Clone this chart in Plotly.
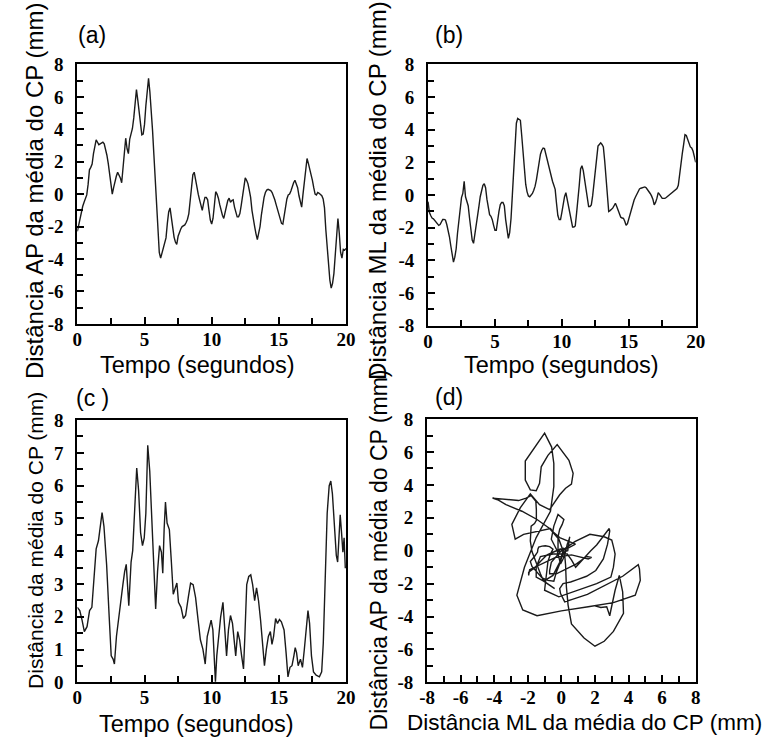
import plotly.graph_objects as go

# ---------------- data ----------------
# common sampling times (s) for AP and ML displacement, 0.1 s step, 0..20 s
TIME_S = [round(i * 0.1, 1) for i in range(201)]

AP_MM = [
    -2.3, -1.85, -1.4, -1.0, -0.75, -0.5, -0.3, -0.05, 0.6, 1.5,
    1.65, 1.85, 2.5, 3.0, 3.35, 3.2, 3.05, 3.1, 3.15, 3.2,
    3.1, 2.8, 2.4, 1.9, 1.35, 0.7, 0.0, 0.4, 0.8, 1.1,
    1.35, 1.2, 1.0, 0.7, 1.6, 2.6, 3.45, 2.8, 2.5, 3.4,
    3.8, 4.05, 4.7, 5.5, 6.45, 5.8, 5.1, 4.1, 3.65, 3.7,
    4.3, 5.45, 6.4, 7.15, 6.3, 5.3, 3.9, 2.4, 0.8, -1.0,
    -2.7, -3.6, -3.95, -3.65, -3.4, -3.15, -2.7, -1.8, -1.1, -0.85,
    -1.55, -2.1, -2.65, -2.95, -3.1, -2.6, -2.3, -2.15, -2.0, -1.95,
    -1.9, -1.75, -1.55, -1.2, -0.5, 0.4, 1.2, 1.35, 0.85, 0.35,
    0.0, -0.35, -0.65, -1.0, -0.55, -0.2, -0.2, -0.35, -1.0, -1.6,
    -1.85, -1.5, -0.7, 0.15, 0.0, -0.25, -0.65, -1.05, -1.3, -1.5,
    -1.15, -0.75, -0.4, -0.25, -0.5, -0.4, -0.35, -0.8, -1.15, -1.4,
    -1.4, -1.2, -0.7, -0.05, 0.55, 1.0, 0.85, 0.65, 0.25, -0.2,
    -1.0, -1.6, -2.0, -2.45, -2.8, -2.4, -2.0, -1.3, -0.65, -0.2,
    0.1, 0.25, 0.3, 0.28, 0.22, 0.1, -0.08, -0.35, -0.65, -0.95,
    -1.3, -1.65, -1.8, -1.85, -1.3, -0.85, -0.3, -0.05, 0.0, 0.2,
    0.5, 0.7, 0.85, 0.65, 0.4, -0.1, -0.5, -0.8, 0.0, 0.7,
    1.5, 2.2, 1.9, 1.6, 1.3, 0.85, 0.4, 0.0, -0.05, 0.1,
    0.05, 0.0, -0.1, -0.3, -0.85, -2.2, -3.3, -4.45, -5.3, -5.8,
    -5.5, -4.9, -3.8, -2.5, -1.5, -2.4, -3.6, -3.95, -3.4, -3.45,
    -3.35,
]

ML_MM = [
    -0.4, -1.05, -1.25, -1.4, -1.45, -1.55, -1.65, -1.75, -1.85, -1.8,
    -1.6, -1.49, -1.49, -1.52, -1.8, -2.1, -2.55, -3.1, -3.6, -4.1,
    -3.8, -3.3, -2.35, -1.45, -0.7, -0.15, 0.1, 0.84, -0.1, -0.45,
    -0.65, -1.4, -2.25, -2.75, -2.95, -2.45, -1.85, -1.3, -0.7, -0.1,
    0.25, 0.6, 0.7, 0.45, -0.25, -0.8, -1.2, -1.3, -1.5, -1.85,
    -2.15, -2.15, -1.5, -1.0, -0.58, -0.45, -0.45, -0.65, -1.5, -2.2,
    -2.65, -2.3, -1.45, 0.0, 1.6, 3.1, 4.4, 4.7, 4.65, 4.58,
    3.65, 2.55, 1.55, 0.65, 0.2, -0.05, -0.1, 0.0, 0.1, 0.3,
    0.55, 0.95, 1.5, 2.05, 2.5, 2.75, 2.88, 2.85, 2.5, 2.1,
    1.75, 1.45, 1.15, 0.85, 0.6, 0.35, -0.5, -1.25, -1.5, -1.5,
    -1.05, -0.5, -0.1, 0.15, -0.3, -0.85, -1.25, -1.6, -1.95, -1.95,
    -1.89, -1.1, -0.35, 0.6, 1.6, 1.8, 1.5, 0.9, 0.2, -0.3,
    -0.7, -0.7, -0.6, -0.05, 0.8, 1.7, 2.55, 3.0, 3.1, 3.2,
    3.1, 2.95, 2.1, 0.9, -0.15, -1.0, -0.95, -0.9, -0.8, -0.65,
    -0.5, -0.7, -0.95, -1.15, -1.35, -1.4, -1.42, -1.6, -1.85, -1.75,
    -1.45, -1.15, -0.8, -0.45, -0.3, -0.12, 0.05, 0.2, 0.38, 0.42,
    0.45, 0.47, 0.5, 0.45, 0.35, 0.24, 0.1, -0.05, -0.25, -0.6,
    -0.45, -0.2, 0.15, 0.05, -0.1, -0.2, -0.2, -0.2, -0.15, -0.08,
    0.0, 0.08, 0.15, 0.2, 0.25, 0.3, 0.4, 0.6, 1.35, 2.0,
    2.55, 3.1, 3.7, 3.65, 3.45, 3.2, 2.95, 2.88, 2.7, 2.35,
    2.0,
]

# resultant distance (panel c)
TIME_C_S = [
    0, 0.18, 0.35, 0.52, 0.72, 0.91, 1.08, 1.25, 1.40, 1.57,
    1.69, 1.84, 1.98, 2.18, 2.37, 2.52, 2.66, 2.76, 2.91, 3.10,
    3.27, 3.39, 3.52, 3.64, 3.83, 4.0, 4.12, 4.27, 4.42, 4.56,
    4.71, 4.85, 4.98, 5.10, 5.24, 5.39, 5.54, 5.68, 5.83, 5.97,
    6.12, 6.26, 6.36, 6.46, 6.56, 6.68, 6.85, 7.0, 7.14, 7.29,
    7.41, 7.53, 7.72, 7.89, 8.06, 8.26, 8.43, 8.62, 8.80, 8.99,
    9.16, 9.35, 9.52, 9.67, 9.82, 9.96, 10.09, 10.18, 10.28, 10.38,
    10.52, 10.67, 10.84, 10.96, 11.11, 11.25, 11.40, 11.55, 11.69, 11.79,
    11.94, 12.08, 12.23, 12.37, 12.47, 12.61, 12.76, 12.91, 13.05, 13.20,
    13.34, 13.49, 13.64, 13.78, 13.93, 14.07, 14.22, 14.37, 14.49, 14.61,
    14.76, 14.90, 15.05, 15.19, 15.39, 15.54, 15.68, 15.83, 15.98, 16.12,
    16.22, 16.32, 16.44, 16.61, 16.76, 16.90, 17.05, 17.17, 17.29, 17.43,
    17.58, 17.78, 18.02, 18.19, 18.31, 18.46, 18.60, 18.75, 18.87, 18.99,
    19.14, 19.28, 19.38, 19.48, 19.57, 19.67, 19.77, 19.86, 19.95,
]
DIST_C_MM = [
    2.29, 2.19, 1.90, 1.55, 1.70, 2.19, 2.29, 3.18, 4.07, 4.32,
    4.76, 5.18, 4.76, 3.58, 2.0, 0.81, 0.71, 0.56, 1.40, 2.09,
    2.59, 2.98, 3.38, 3.60, 2.34, 3.67, 4.02, 5.16, 6.54, 5.85,
    4.56, 4.17, 4.41, 5.16, 7.23, 6.44, 5.16, 3.67, 2.24, 3.38,
    4.17, 3.97, 3.33, 4.66, 5.50, 4.86, 4.66, 3.67, 2.69, 2.88,
    3.03, 2.44, 2.29, 1.95, 2.04, 2.59, 3.03, 2.98, 2.59, 1.90,
    1.30, 1.01, 0.56, 1.40, 1.65, 1.90, 1.60, 0.81, 0.02, 0.81,
    1.40, 2.0, 2.44, 1.80, 0.81, 1.60, 2.04, 1.80, 1.20, 0.81,
    1.55, 1.30, 0.81, 0.41, 1.40, 2.98, 3.23, 3.28, 2.98, 2.49,
    2.88, 2.49, 1.90, 1.20, 0.51, 1.01, 1.40, 1.55, 1.16, 1.40,
    1.95, 1.80, 1.92, 1.85, 1.60, 0.91, 0.17, 0.46, 0.51, 0.81,
    1.06, 0.91, 0.51, 0.71, 0.46, 1.01, 1.80, 2.19, 1.80, 0.81,
    0.32, 0.22, 0.17, 0.32, 1.20, 3.18, 5.16, 6.0, 6.14, 5.75,
    4.86, 3.87, 3.67, 4.37, 5.11, 4.56, 3.97, 4.41, 3.48,
]

# tick values / labels
TIME_TICKS = [0, 5, 10, 15, 20]
TIME_TICK_TEXT = ["0", "5", "10", "15", "20"]
TIME_MINOR = [2.5, 7.5, 12.5, 17.5]
DISP_TICKS = [-8, -6, -4, -2, 0, 2, 4, 6, 8]
DISP_TICK_TEXT = ["-8", "-6", "-4", "-2", "0", "2", "4", "6", "8"]
DISP_MINOR = [-7, -5, -3, -1, 1, 3, 5, 7]
DIST_TICKS = [0, 1, 2, 3, 4, 5, 6, 7, 8]
DIST_TICK_TEXT = ["0", "1", "2", "3", "4", "5", "6", "7", "8"]
DIST_MINOR = [0.5, 1.5, 2.5, 3.5, 4.5, 5.5, 6.5, 7.5]

# ---------------- layout helpers ----------------
W, H = 777, 742


def fx(p):
    return p / W


def fy(p):
    return 1 - p / H


SERIF = "Liberation Serif, Times New Roman, serif"
SANS = "Liberation Sans, Arial, sans-serif"
LINE = dict(color="#1a1a1a", width=1.4)
TICKFONT = dict(family=SERIF, size=19, color="black")
YTITLEFONT = dict(family=SANS, size=24, color="black")
CTITLEFONT = dict(family=SANS, size=21, color="black")
DYTITLEFONT = dict(family=SANS, size=23, color="black")
XTITLEFONT = dict(family=SANS, size=23.5, color="black")
DTITLEFONT = dict(family=SANS, size=22.5, color="black")
LABELFONT = dict(family=SANS, size=23, color="black")


def bold(labels):
    return ["<b>%s</b>" % s for s in labels]


def axis(domain, rng, tickvals, ticktext, minor_vals, anchor, standoff):
    return dict(
        domain=domain, range=rng, anchor=anchor,
        showline=True, linecolor="black", linewidth=2, mirror=True,
        showgrid=False, zeroline=False,
        ticks="inside", ticklen=7, tickwidth=1.5, tickcolor="black",
        tickmode="array", tickvals=tickvals, ticktext=bold(ticktext),
        tickfont=dict(TICKFONT), ticklabelstandoff=standoff,
        minor=dict(tickmode="array", tickvals=minor_vals, ticks="inside",
                   ticklen=6, tickwidth=1.5, tickcolor="black", showgrid=False),
    )


fig = go.Figure()
fig.add_trace(go.Scatter(x=TIME_S, y=AP_MM, mode="lines", line=LINE,
                         xaxis="x", yaxis="y", showlegend=False))
fig.add_trace(go.Scatter(x=TIME_S, y=ML_MM, mode="lines", line=LINE,
                         xaxis="x2", yaxis="y2", showlegend=False))
fig.add_trace(go.Scatter(x=TIME_C_S, y=DIST_C_MM, mode="lines", line=LINE,
                         xaxis="x3", yaxis="y3", showlegend=False))
fig.add_trace(go.Scatter(x=ML_MM, y=AP_MM, mode="lines", line=LINE,
                         xaxis="x4", yaxis="y4", showlegend=False))

XS, YS = -3, 8
fig.update_layout(
    width=W, height=H, margin=dict(l=0, r=0, t=0, b=0),
    paper_bgcolor="white", plot_bgcolor="white",
    font=dict(family=SERIF, size=19, color="black"),
    xaxis=axis([fx(71), fx(346)], [0, 20], TIME_TICKS, TIME_TICK_TEXT, TIME_MINOR, "y", XS),
    yaxis=axis([fy(323), fy(56)], [-8, 8], DISP_TICKS, DISP_TICK_TEXT, DISP_MINOR, "x", YS),
    xaxis2=axis([fx(430), fx(704)], [0, 20], TIME_TICKS, TIME_TICK_TEXT, TIME_MINOR, "y2", XS),
    yaxis2=axis([fy(325), fy(56)], [-8, 8], DISP_TICKS, DISP_TICK_TEXT, DISP_MINOR, "x2", YS),
    xaxis3=axis([fx(71), fx(346)], [0, 20], TIME_TICKS, TIME_TICK_TEXT, TIME_MINOR, "y3", XS),
    yaxis3=axis([fy(692), fy(422)], [0, 8], DIST_TICKS, DIST_TICK_TEXT, DIST_MINOR, "x3", YS),
    xaxis4=axis([fx(429), fx(704)], [-8, 8], DISP_TICKS, DISP_TICK_TEXT, DISP_MINOR, "y4", XS),
    yaxis4=axis([fy(692), fy(421)], [-8, 8], DISP_TICKS, DISP_TICK_TEXT, DISP_MINOR, "x4", YS),
)

annots = [
    ("Distância AP da média do CP (mm)", 27, 186, -90, YTITLEFONT),
    ("Distância ML da média do CP (mm)", 379, 186, -90, YTITLEFONT),
    ("Distância da média do CP (mm)", 28, 546, -90, CTITLEFONT),
    ("Distância AP da média do CP (mm)", 380, 556, -90, DYTITLEFONT),
    ("Tempo (segundos)", 194, 365, 0, XTITLEFONT),
    ("Tempo (segundos)", 567, 365, 0, XTITLEFONT),
    ("Tempo (segundos)", 193, 735, 0, XTITLEFONT),
    ("Distância ML da média do CP (mm)", 590, 733, 0, DTITLEFONT),
    ("(a)", 86, 26, 0, LABELFONT),
    ("(b)", 451, 26, 0, LABELFONT),
    ("(c )", 87, 399, 0, LABELFONT),
    ("(d)", 451, 398, 0, LABELFONT),
]
for text, x, y, ang, font in annots:
    fig.add_annotation(text=text, x=fx(x), y=fy(y), xref="paper", yref="paper",
                       xanchor="center", yanchor="middle", showarrow=False,
                       textangle=ang, font=font)

fig.write_html("out.html")
